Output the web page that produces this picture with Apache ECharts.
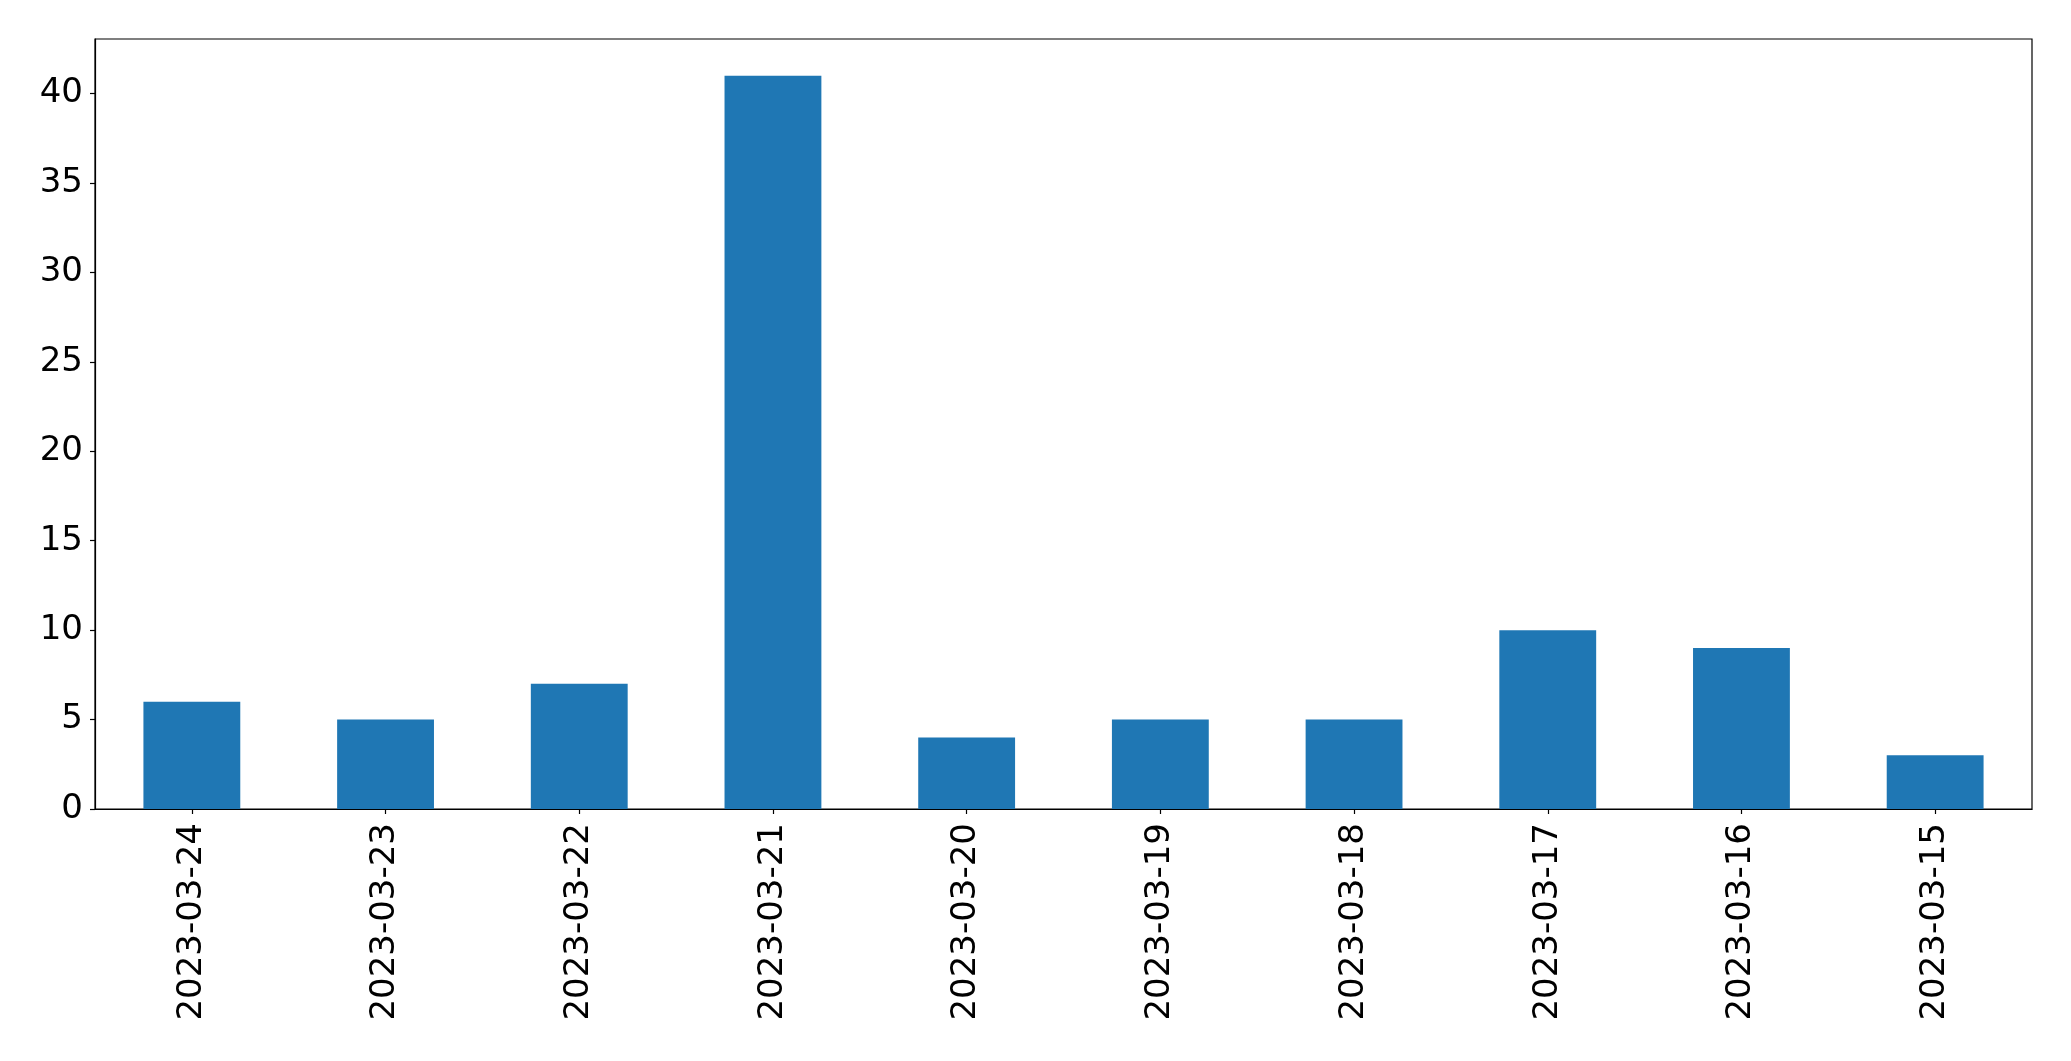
<!DOCTYPE html>
<html>
<head>
<meta charset="utf-8">
<style>html,body{margin:0;padding:0;background:#fff}#c{width:2071px;height:1061px}</style>
<script src="https://cdn.jsdelivr.net/npm/echarts@6/dist/echarts.min.js"></script>
</head>
<body>
<div id="c"></div>
<script>
const categories = ['2023-03-24','2023-03-23','2023-03-22','2023-03-21','2023-03-20','2023-03-19','2023-03-18','2023-03-17','2023-03-16','2023-03-15'];
const values = [6, 5, 7, 41, 4, 5, 5, 10, 9, 3];
const yMin = 0, yMax = 43.05, yInterval = 5;

const chart = echarts.init(document.getElementById('c'), null, {renderer: 'canvas'});
const font = 'DejaVu Sans';
chart.setOption({
  animation: false,
  backgroundColor: '#fff',
  grid: {left: 95, right: 39, top: 39, bottom: 252, show: true, borderColor: '#000', borderWidth: 1.2, backgroundColor: 'transparent'},
  xAxis: {
    type: 'category',
    data: categories,
    axisLine: {show: true, lineStyle: {color: '#000', width: 1.2}},
    axisTick: {show: true, alignWithLabel: true, length: 5, lineStyle: {color: '#000', width: 1.2}},
    axisLabel: {rotate: 90, margin: 14, color: '#000', fontSize: 34, fontFamily: font, interval: 0},
    splitLine: {show: false}
  },
  yAxis: {
    type: 'value',
    min: yMin, max: yMax, interval: yInterval,
    axisLine: {show: true, lineStyle: {color: '#000', width: 1.2}},
    axisTick: {show: true, length: 5, lineStyle: {color: '#000', width: 1.2}},
    axisLabel: {margin: 12, color: '#000', fontSize: 34, fontFamily: font, showMaxLabel: false},
    splitLine: {show: false}
  },
  series: [{
    type: 'bar',
    data: values,
    barWidth: '50%',
    itemStyle: {color: '#1f77b4'}
  }]
});
</script>
</body>
</html>
